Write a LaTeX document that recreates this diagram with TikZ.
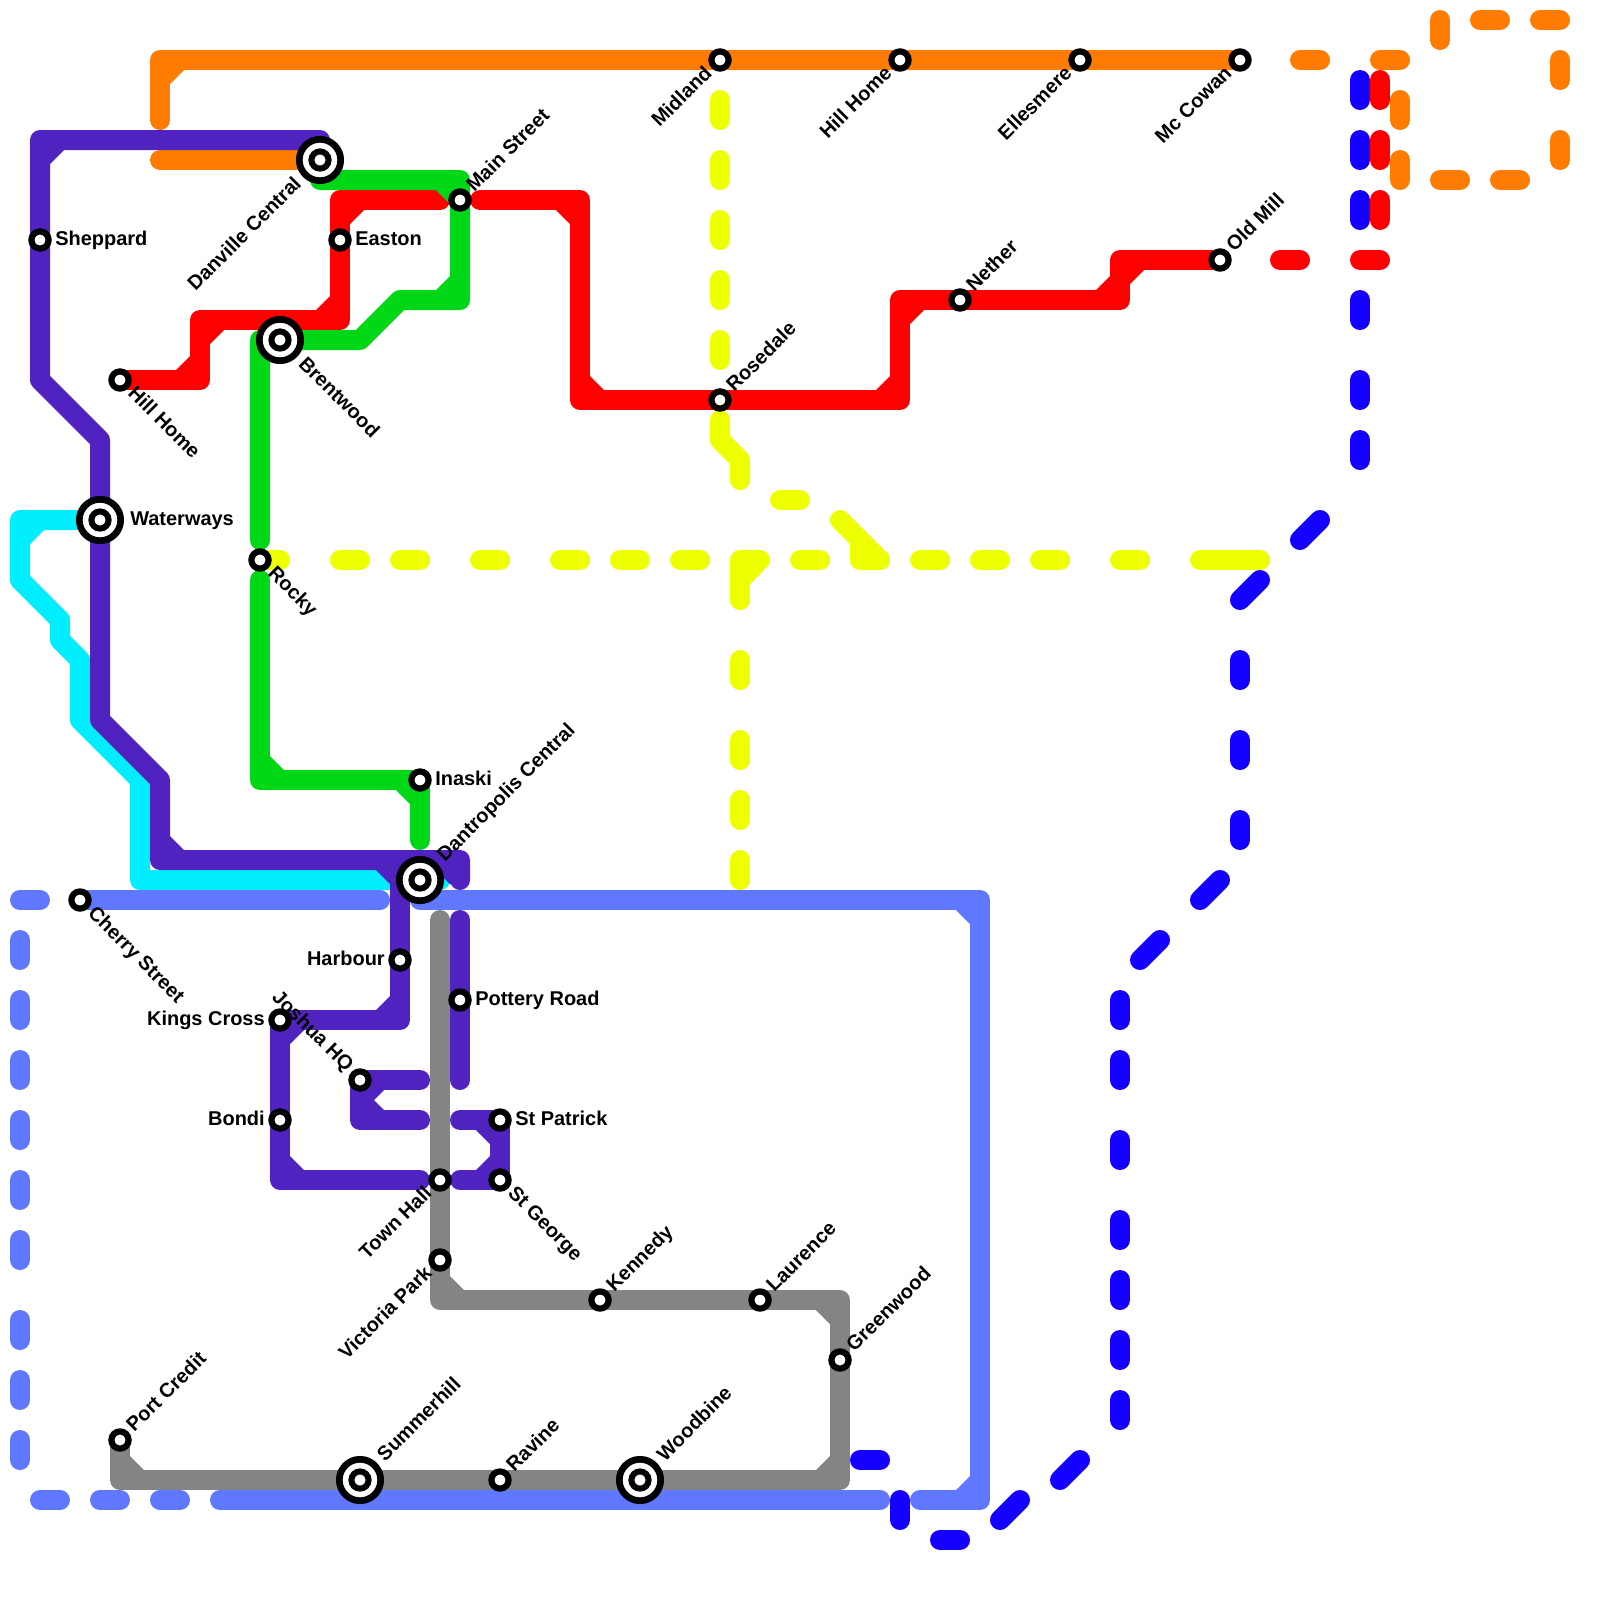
\documentclass[tikz,border=0pt]{standalone}
\usepackage{fontspec}
\setmainfont{Liberation Sans}
\definecolor{cOrange}{HTML}{FF7C00}
\definecolor{cPurple}{HTML}{5022BF}
\definecolor{cGreen}{HTML}{00D717}
\definecolor{cRed}{HTML}{FF0000}
\definecolor{cCyan}{HTML}{00EEFF}
\definecolor{cYellow}{HTML}{EEFF00}
\definecolor{cLight}{HTML}{5F78FF}
\definecolor{cBlue}{HTML}{1400FF}
\definecolor{cGray}{HTML}{848484}
\pgfdeclarelayer{lines}
\pgfsetlayers{lines,main}
\tikzset{
  ln/.style={line width=.5cm,line cap=round,line join=round},
  st/.style={circle,draw=black,fill=white,line width=.155cm,minimum size=.43cm,inner sep=0pt},
  stx/.style={circle,draw=black,fill=white,line width=.1675cm,minimum size=1.035cm,inner sep=0pt},
  stin/.style={circle,draw=black,fill=white,line width=.15cm,minimum size=.43cm,inner sep=0pt},
  lab/.style={font=\bfseries\fontsize{14.2pt}{16pt}\selectfont,text=black,inner sep=0pt,text height=.36cm,text depth=.1cm},
  UR/.style={lab,rotate=45,anchor=west,xshift=#1},
  DL/.style={lab,rotate=45,anchor=east,xshift=-#1},
  DR/.style={lab,rotate=-45,anchor=west,xshift=#1},
  UL/.style={lab,rotate=-45,anchor=east,xshift=-#1},
  RR/.style={lab,anchor=west,xshift=#1},
  LL/.style={lab,anchor=east,xshift=-#1},
}
\newcommand\cham[5]{\fill[#1] (#2,#3) -- ({#2+1.2*#4},#3) -- ({#2+1.2*#4},{#3+.5*#5}) -- ({#2+.5*#4},{#3+1.2*#5}) -- (#2,{#3+1.2*#5}) -- cycle;}
\newcommand\stn[3]{\node[st] (#1) at (#2,#3) {};}
\newcommand\stnx[3]{\node[stx] (#1) at (#2,#3) {}; \node[stin] (#1-c) at (#2,#3) {};}
\begin{document}
\begin{tikzpicture}[x=.5cm,y=-.5cm]
\useasboundingbox (0,0) rectangle (80,80);
% stations
\stn{sheppard}{2}{12}
\stn{easton}{17}{12}
\stn{mainst}{23}{10}
\stn{hillhomeW}{6}{19}
\stn{rocky}{13}{28}
\stn{midland}{36}{3}
\stn{hillhomeN}{45}{3}
\stn{ellesmere}{54}{3}
\stn{mccowan}{62}{3}
\stn{rosedale}{36}{20}
\stn{nether}{48}{15}
\stn{oldmill}{61}{13}
\stn{inaski}{21}{39}
\stn{cherry}{4}{45}
\stn{harbour}{20}{48}
\stn{pottery}{23}{50}
\stn{kings}{14}{51}
\stn{joshua}{18}{54}
\stn{bondi}{14}{56}
\stn{stpatrick}{25}{56}
\stn{stgeorge}{25}{59}
\stn{townhall}{22}{59}
\stn{victoria}{22}{63}
\stn{kennedy}{30}{65}
\stn{laurence}{38}{65}
\stn{greenwood}{42}{68}
\stn{portcredit}{6}{72}
\stn{ravine}{25}{74}
\stnx{danville}{16}{8}
\stnx{brentwood}{14}{17}
\stnx{waterways}{5}{26}
\stnx{dantropolis}{21}{44}
\stnx{summerhill}{18}{74}
\stnx{woodbine}{32}{74}
% labels
\node[RR=.375cm] (l-sheppard) at (sheppard) {Sheppard};
\node[RR=.375cm] (l-easton) at (easton) {Easton};
\node[RR=.75cm] (l-waterways) at (waterways) {Waterways};
\node[RR=.375cm] (l-inaski) at (inaski) {Inaski};
\node[RR=.375cm] (l-pottery) at (pottery) {Pottery Road};
\node[RR=.375cm] (l-stpatrick) at (stpatrick) {St Patrick};
\node[LL=.375cm] (l-harbour) at (harbour) {Harbour};
\node[LL=.375cm] (l-kings) at (kings) {Kings Cross};
\node[LL=.375cm] (l-bondi) at (bondi) {Bondi};
\node[UR=.375cm] (l-mainst) at (mainst) {Main Street};
\node[UR=.375cm] (l-nether) at (nether) {Nether};
\node[UR=.375cm] (l-oldmill) at (oldmill) {Old Mill};
\node[UR=.375cm] (l-rosedale) at (rosedale) {Rosedale};
\node[UR=.75cm] (l-dantropolis) at (dantropolis) {Dantropolis Central};
\node[UR=.375cm] (l-kennedy) at (kennedy) {Kennedy};
\node[UR=.375cm] (l-laurence) at (laurence) {Laurence};
\node[UR=.375cm] (l-greenwood) at (greenwood) {Greenwood};
\node[UR=.375cm] (l-portcredit) at (portcredit) {Port Credit};
\node[UR=.75cm] (l-summerhill) at (summerhill) {Summerhill};
\node[UR=.375cm] (l-ravine) at (ravine) {Ravine};
\node[UR=.75cm] (l-woodbine) at (woodbine) {Woodbine};
\node[DL=.75cm] (l-danville) at (danville) {Danville Central};
\node[DL=.375cm] (l-midland) at (midland) {Midland};
\node[DL=.375cm] (l-hillhomeN) at (hillhomeN) {Hill Home};
\node[DL=.375cm] (l-ellesmere) at (ellesmere) {Ellesmere};
\node[DL=.375cm] (l-mccowan) at (mccowan) {Mc Cowan};
\node[DL=.375cm] (l-townhall) at (townhall) {Town Hall};
\node[DL=.375cm] (l-victoria) at (victoria) {Victoria Park};
\node[DR=.375cm] (l-hillhomeW) at (hillhomeW) {Hill Home};
\node[DR=.75cm] (l-brentwood) at (brentwood) {Brentwood};
\node[DR=.375cm] (l-rocky) at (rocky) {Rocky};
\node[DR=.375cm] (l-cherry) at (cherry) {Cherry Street};
\node[DR=.375cm] (l-stgeorge) at (stgeorge) {St George};
\node[UL=.375cm] (l-joshua) at (joshua) {Joshua HQ};
\begin{pgfonlayer}{lines}
\fill[white] (0,0) rectangle (80,80);
% yellow
\foreach \a in {5,8,11,14,17} \draw[ln,cYellow] (36,\a) -- (36,\a+1);
\draw[ln,cYellow] (36,21) -- (36,22) -- (37,23) -- (37,24);
\draw[ln,cYellow] (39,25) -- (40,25);
\draw[ln,cYellow] (42,26) -- (44,28) -- (43,28) -- (43,27) -- cycle;
\draw[ln,cYellow] (rocky.center) -- (14,28);
\foreach \a in {17,20,24,28,31,34,40,46,49,52,56} \draw[ln,cYellow] (\a,28) -- (\a+1,28);
\draw[ln,cYellow] (60,28) -- (63,28);
\draw[ln,cYellow] (38,28) -- (37,28) -- (37,30);
\cham{cYellow}{37}{28}{1}{1}
\foreach \a in {33,37,40,43} \draw[ln,cYellow] (37,\a) -- (37,\a+1);
% orange
\draw[ln,cOrange] (danville.center) -- (8,8);
\draw[ln,cOrange] (8,6) -- (8,3) -- (mccowan.center);
\cham{cOrange}{8}{3}{1}{1}
\draw[ln,cOrange] (65,3) -- (66,3);
\draw[ln,cOrange] (69,3) -- (70,3);
\draw[ln,cOrange] (70,5) -- (70,6);
\draw[ln,cOrange] (70,8) -- (70,9);
\draw[ln,cOrange] (72,9) -- (73,9);
\draw[ln,cOrange] (75,9) -- (76,9);
\draw[ln,cOrange] (78,7) -- (78,8);
\draw[ln,cOrange] (78,3) -- (78,4);
\draw[ln,cOrange] (77,1) -- (78,1);
\draw[ln,cOrange] (74,1) -- (75,1);
\draw[ln,cOrange] (72,1) -- (72,2);
% red
\draw[ln,cRed] (hillhomeW.center) -- (10,19) -- (10,16) -- (17,16) -- (17,10) -- (22,10);
\cham{cRed}{10}{19}{-1}{-1}
\cham{cRed}{10}{16}{1}{1}
\cham{cRed}{17}{16}{-1}{-1}
\cham{cRed}{17}{10}{1}{1}
\draw[ln,cRed] (24,10) -- (29,10) -- (29,20) -- (45,20) -- (45,15) -- (56,15) -- (56,13) -- (oldmill.center);
\cham{cRed}{29}{10}{-1}{1}
\cham{cRed}{29}{20}{1}{-1}
\cham{cRed}{45}{20}{-1}{-1}
\cham{cRed}{45}{15}{1}{1}
\cham{cRed}{56}{15}{-1}{-1}
\cham{cRed}{56}{13}{1}{1}
\draw[ln,cRed] (64,13) -- (65,13);
\draw[ln,cRed] (68,13) -- (69,13);
\foreach \a in {4,7,10} \draw[ln,cRed] (69,\a) -- (69,\a+1);
% green
\draw[ln,cGreen] (16,9) -- (23,9) -- (23,15) -- (20,15) -- (18,17) -- (13,17) -- (13,27);
\cham{cGreen}{23}{9}{-1}{1}
\cham{cGreen}{23}{15}{-1}{-1}
\draw[ln,cGreen] (13,29) -- (13,39) -- (21,39) -- (21,42);
\cham{cGreen}{13}{39}{1}{-1}
\cham{cGreen}{21}{39}{-1}{1}
% cyan
\draw[ln,cCyan] (waterways.center) -- (1,26) -- (1,29) -- (3,31) -- (3,32) -- (4,33) -- (4,36) -- (7,39) -- (7,44) -- (22,44);
\cham{cCyan}{1}{26}{1}{1}
% light blue
\draw[ln,cLight] (1,45) -- (2,45);
\foreach \a in {47,50,53,56,59,62,66,69,72} \draw[ln,cLight] (1,\a) -- (1,\a+1);
\foreach \a in {2,5,8} \draw[ln,cLight] (\a,75) -- (\a+1,75);
\draw[ln,cLight] (cherry.center) -- (19,45);
\draw[ln,cLight] (21,45) -- (49,45) -- (49,75) -- (46,75);
\cham{cLight}{49}{45}{-1}{1}
\cham{cLight}{49}{75}{-1}{-1}
\draw[ln,cLight] (11,75) -- (44,75);
% purple
\draw[ln,cPurple] (16,7) -- (2,7) -- (2,19) -- (5,22) -- (5,36) -- (8,39) -- (8,43) -- (23,43) -- (23,44);
\cham{cPurple}{2}{7}{1}{1}
\cham{cPurple}{8}{43}{1}{-1}
\cham{cPurple}{23}{43}{-1}{1}
\draw[ln,cPurple] (20,43) -- (20,51) -- (14,51) -- (14,59) -- (21,59);
\cham{cPurple}{20}{43}{-1}{1}
\cham{cPurple}{20}{51}{-1}{-1}
\cham{cPurple}{14}{51}{1}{1}
\cham{cPurple}{14}{59}{1}{-1}
\draw[ln,cPurple] (23,46) -- (23,54);
\draw[ln,cPurple] (21,54) -- (18,54) -- (18,56) -- (21,56);
\cham{cPurple}{18}{54}{1}{1}
\cham{cPurple}{18}{56}{1}{-1}
\draw[ln,cPurple] (23,56) -- (25,56) -- (25,59) -- (23,59);
\cham{cPurple}{25}{56}{-1}{1}
\cham{cPurple}{25}{59}{-1}{-1}
% gray
\draw[ln,cGray] (portcredit.center) -- (6,74) -- (42,74) -- (42,65) -- (22,65) -- (22,46);
\cham{cGray}{6}{74}{1}{-1}
\cham{cGray}{42}{74}{-1}{-1}
\cham{cGray}{42}{65}{-1}{1}
\cham{cGray}{22}{65}{1}{-1}
% blue
\foreach \a in {4,7,10,15,19,22} \draw[ln,cBlue] (68,\a) -- (68,\a+1);
\draw[ln,cBlue] (65,27) -- (66,26);
\draw[ln,cBlue] (62,30) -- (63,29);
\foreach \a in {33,37,41} \draw[ln,cBlue] (62,\a) -- (62,\a+1);
\draw[ln,cBlue] (60,45) -- (61,44);
\draw[ln,cBlue] (57,48) -- (58,47);
\foreach \a in {50,53,57,61,64,67,70} \draw[ln,cBlue] (56,\a) -- (56,\a+1);
\draw[ln,cBlue] (53,74) -- (54,73);
\draw[ln,cBlue] (50,76) -- (51,75);
\draw[ln,cBlue] (47,77) -- (48,77);
\draw[ln,cBlue] (45,75) -- (45,76);
\draw[ln,cBlue] (43,73) -- (44,73);
\end{pgfonlayer}
\end{tikzpicture}
\end{document}
